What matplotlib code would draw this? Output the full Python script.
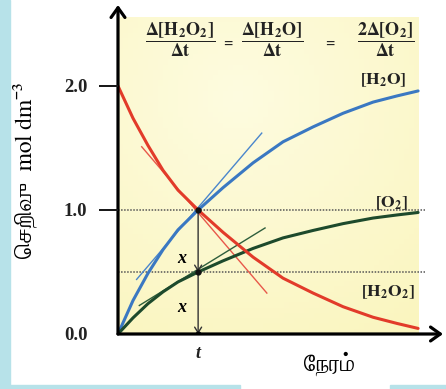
import numpy as np
import matplotlib
matplotlib.use('Agg')
import matplotlib.pyplot as plt
from matplotlib import font_manager
from matplotlib.patches import Rectangle, FancyArrowPatch

# Tamil font (serif, like the textbook figure)
font_manager.fontManager.addfont('/usr/share/fonts/truetype/freefont/FreeSerif.ttf')
plt.rcParams['mathtext.fontset'] = 'stix'

# values
time = [0, 0.5, 1, 1.5, 2, 2.67, 3.5, 4.5, 5.5, 6.5, 7.5, 8.5, 9.3, 10]
h2o2 = [2.0, 1.74, 1.52, 1.32, 1.16, 1.0, 0.82, 0.62, 0.45, 0.33, 0.22, 0.135, 0.085, 0.045]
h2o = [0.0, 0.27, 0.49, 0.68, 0.84, 1.0, 1.18, 1.38, 1.55, 1.67, 1.78, 1.87, 1.92, 1.96]
o2 = [0.0, 0.13, 0.245, 0.34, 0.42, 0.5, 0.59, 0.69, 0.775, 0.835, 0.89, 0.935, 0.96, 0.98]

t_mark = 2.67
# tangents at t: (x0, x1), (y0, y1)
tan_h2o2 = ([0.79, 4.96], [1.51, 0.33])
tan_h2o = ([0.62, 4.79], [0.44, 1.62])
tan_o2 = ([0.71, 4.90], [0.23, 0.855])

yticks = [0.0, 1.0, 2.0]
ytick_labels = ['0.0', '1.0', '2.0']

red = '#e23b2a'
blue = '#3a78c2'
green = '#1d4a2c'
frame_blue = '#b7e2e9'
ink = '#222222'

fig = plt.figure(figsize=(4.46, 3.89), dpi=100)
fig.patches.append(Rectangle((0, 0), 10 / 446, 1, transform=fig.transFigure,
                             color=frame_blue, zorder=0))
fig.patches.append(Rectangle((0, 0), 240 / 446, 4 / 389, transform=fig.transFigure,
                             color=frame_blue, zorder=0))
fig.patches.append(Rectangle((390 / 446, 0), 56 / 446, 4 / 389, transform=fig.transFigure,
                             color=frame_blue, zorder=0))

ax = fig.add_axes([118 / 446, 55 / 389, 325 / 446, 329 / 389])
ax.set_xlim(0, 10.83)
ax.set_ylim(0, 2.653)
for s in ax.spines.values():
    s.set_visible(False)
ax.patch.set_alpha(0)

# yellow panel with a soft gradient
gx, gy = np.meshgrid(np.linspace(0, 1, 60), np.linspace(1, 0, 60))
w = np.clip(0.25 + 0.75 * np.hypot((gx - 0.4) * 0.9, (gy - 0.75)), 0, 1)
c0 = np.array([1.0, 0.996, 0.925])
c1 = np.array([0.980, 0.960, 0.735])
img = c0 + (c1 - c0) * w[..., None]
ax.imshow(img, extent=[0, 10.0, 0, 2.556], aspect='auto', zorder=0)

# guide lines
ax.plot([0, 10.23], [1.0, 1.0], color='#555555', lw=1.1, ls=(0, (1, 1)), zorder=1)
ax.plot([0, 10.23], [0.5, 0.5], color='#555555', lw=1.1, ls=(0, (1, 1)), zorder=1)

# tangents
ax.plot(*tan_h2o2, color='#e8584a', lw=1.0, zorder=2)
ax.plot(*tan_h2o, color='#4a86cc', lw=1.0, zorder=2)
ax.plot(*tan_o2, color='#2e5e3c', lw=1.0, zorder=2)

# curves
ax.plot(time, h2o, color=blue, lw=2.2, solid_capstyle='round', zorder=3)
ax.plot(time, o2, color=green, lw=2.2, solid_capstyle='round', zorder=3)
ax.plot(time, h2o2, color=red, lw=2.2, solid_capstyle='round', zorder=4)

# x arrows at t
for y0, y1 in [(1.0, 0.5), (0.5, 0.0)]:
    ax.add_patch(FancyArrowPatch((t_mark, y0), (t_mark, y1), arrowstyle='->,head_length=4,head_width=2.5',
                                 color='#333333', lw=1.0, shrinkA=0, shrinkB=0, zorder=5))
ax.plot([t_mark] * 3, [1.0, 0.5, 0.0], 'o', color='#111111', ms=3.5, zorder=6)
ax.text(2.13, 0.61, 'x', fontfamily='Liberation Serif', fontstyle='italic', fontweight='bold',
        fontsize=13, ha='center', va='center', zorder=6)
ax.text(2.13, 0.21, 'x', fontfamily='Liberation Serif', fontstyle='italic', fontweight='bold',
        fontsize=13, ha='center', va='center', zorder=6)

# axes with arrow heads
ax.add_patch(FancyArrowPatch((0, 0), (10.83, 0), arrowstyle='->,head_length=7,head_width=5',
                             color='black', lw=2.3, shrinkA=0, shrinkB=0, clip_on=False, zorder=7))
ax.add_patch(FancyArrowPatch((0, 0), (0, 2.653), arrowstyle='->,head_length=7,head_width=5',
                             color='black', lw=2.3, shrinkA=0, shrinkB=0, clip_on=False, zorder=7))

# tick dashes for 1.0 and 2.0 as thin filled bars on the figure
for yv in yticks[1:]:
    fig.patches.append(Rectangle((-0.62, yv - 0.008), 0.62, 0.016, transform=ax.transData,
                                 facecolor='#1a1a1a', edgecolor='none', zorder=5))

# curve labels
ax.text(8.83, 2.05, r'$\mathbf{[H_2O]}$', fontsize=12.5, ha='center', va='center', color=ink)
ax.text(9.1, 1.06, r'$\mathbf{[O_2]}$', fontsize=12.5, ha='center', va='center', color=ink)
ax.text(9.0, 0.34, r'$\mathbf{[H_2O_2]}$', fontsize=12.5, ha='center', va='center', color=ink)

# rate equation
ax.text(2.07, 2.37, r'$\dfrac{\mathbf{\Delta[H_2O_2]}}{\mathbf{\Delta t}}$', fontsize=13,
        ha='center', va='center', color=ink)
ax.text(3.67, 2.35, r'$\mathbf{=}$', fontsize=9, ha='center', va='center', color=ink)
ax.text(5.13, 2.37, r'$\dfrac{\mathbf{\Delta[H_2O]}}{\mathbf{\Delta t}}$', fontsize=13,
        ha='center', va='center', color=ink)
ax.text(7.07, 2.35, r'$\mathbf{=}$', fontsize=9, ha='center', va='center', color=ink)
ax.text(8.93, 2.37, r'$\dfrac{\mathbf{2\Delta[O_2]}}{\mathbf{\Delta t}}$', fontsize=13,
        ha='center', va='center', color=ink)

# ticks
ax.set_yticks(yticks)
ax.set_yticklabels(ytick_labels, fontfamily='Liberation Serif', fontweight='bold', fontsize=13.5,
                   color=ink)
ax.tick_params(axis='y', length=0, pad=22)
ax.set_xticks([t_mark])
ax.set_xticklabels(['t'], fontfamily='Liberation Serif', fontstyle='italic', fontweight='bold',
                   fontsize=13, color=ink)
ax.tick_params(axis='x', length=0, pad=8)

# Tamil labels (vowel signs written before the consonant, since matplotlib does no shaping)
fig.text(25 / 446, 1 - 170 / 389, '\u0bc6சறிவு  mol dm⁻³', rotation=90, fontfamily='FreeSerif',
         fontsize=17, ha='center', va='center')
fig.text(330 / 446, 1 - 364 / 389, '\u0bc7நரம்', fontfamily='FreeSerif',
         fontsize=17, ha='center', va='center')

fig.savefig('out.png', dpi=100)
